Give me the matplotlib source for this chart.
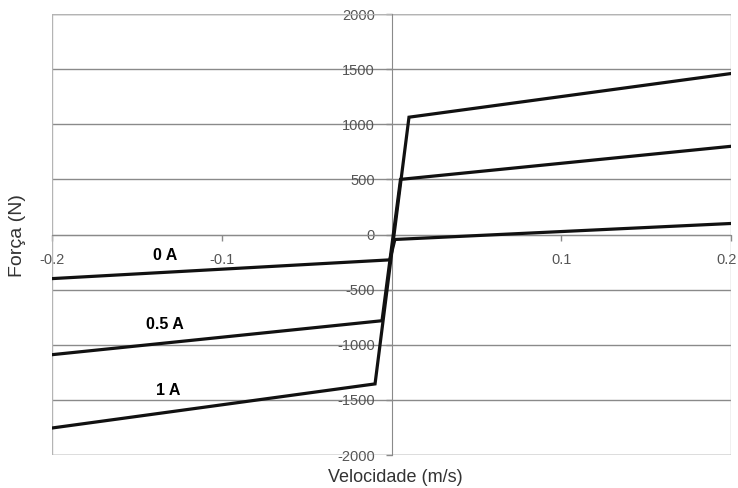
import matplotlib.pyplot as plt
import matplotlib.transforms as mtransforms
from matplotlib.patches import Rectangle

plt.rcParams['axes.unicode_minus'] = False

# damper curves: force vs velocity for three currents
vel_0A = [-0.2, -0.001, 0.002, 0.2]
force_0A = [-400, -230, -45, 100]
vel_05A = [-0.2, -0.0056, 0.0053, 0.2]
force_05A = [-1090, -782, 500, 800]
vel_1A = [-0.2, -0.0097, 0.0103, 0.2]
force_1A = [-1755, -1355, 1064, 1460]

labels = ['0 A', '0.5 A', '1 A']
label_x = [-0.1335, -0.1335, -0.1315]
label_y = [-191, -818, -1418]

x_ticks = [-0.2, -0.1, 0.1, 0.2]
y_ticks = [-2000, -1500, -1000, -500, 0, 500, 1000, 1500, 2000]

GRID = '#8a8a8a'
FRAME = '#b4b4b4'
TXT = '#555555'

fig = plt.figure(figsize=(7.38, 4.88), dpi=100)
ax = fig.add_axes([0.0705, 0.0676, 0.92, 0.9037])

for v, f in [(vel_0A, force_0A), (vel_05A, force_05A), (vel_1A, force_1A)]:
    ax.plot(v, f, color='#111111', lw=2.3, solid_joinstyle='miter', zorder=3)

for lab, x, y in zip(labels, label_x, label_y):
    ax.text(x, y, lab, fontsize=11.5, fontweight='bold', ha='center', va='center',
            family='Liberation Sans')

ax.set_xlim(-0.2, 0.2)
ax.set_ylim(-2000, 2000)

ax.spines['left'].set_position(('data', 0))
ax.spines['bottom'].set_position(('data', 0))
ax.spines['left'].set_color(GRID)
ax.spines['bottom'].set_color(GRID)
for s in ['top', 'right']:
    ax.spines[s].set_visible(False)
ax.add_patch(Rectangle((0, 0), 1, 1, transform=ax.transAxes, fill=False,
                       edgecolor=FRAME, lw=1, zorder=1))

ax.set_xticks(x_ticks)
ax.set_xticklabels(['-0.2', '-0.1', '0.1', '0.2'])
ax.set_yticks(y_ticks)
ax.yaxis.grid(True, color=GRID, lw=1)
ax.set_axisbelow(True)
ax.tick_params(axis='both', colors=GRID, labelcolor=TXT, labelsize=10.5,
               length=4, width=1)
ax.tick_params(axis='x', pad=9)
ax.tick_params(axis='y', pad=8)
for t in ax.get_xticklabels() + ax.get_yticklabels():
    t.set_family('Liberation Sans')

# keep the last x label inside the figure
last = ax.get_xticklabels()[-1]
last.set_transform(last.get_transform() +
                   mtransforms.ScaledTranslation(-4 / 100, 0, fig.dpi_scale_trans))

fig.text(0.535, 0.022, 'Velocidade (m/s)', fontsize=13, ha='center',
         va='center', color='#333333', family='Liberation Sans')
fig.text(0.024, 0.518, 'Força (N)', fontsize=14, ha='center', va='center',
         rotation=90, color='#333333', family='Liberation Sans')

fig.savefig('out.png', dpi=100)
